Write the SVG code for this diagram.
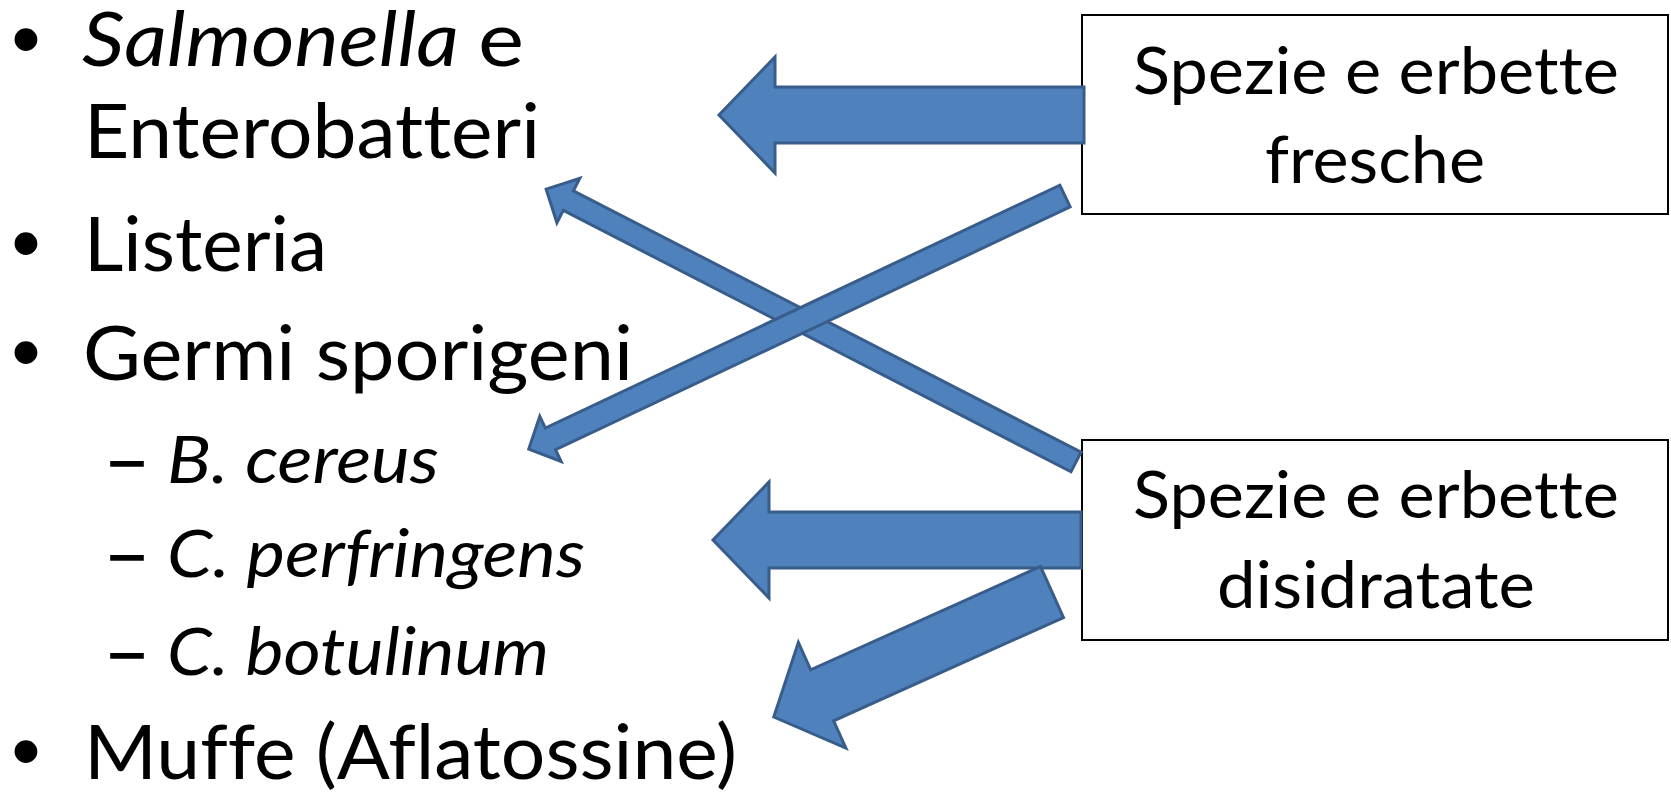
<svg xmlns="http://www.w3.org/2000/svg" width="1671" height="805" viewBox="0 0 1671 805">
  <style>
    text { font-variant-ligatures: none; }
    .txt { font-family: Lato, "Open Sans", "Liberation Sans", sans-serif; fill: #000; }
    .main { font-size: 75px; }
    .sub { font-size: 66px; }
    .it { font-style: italic; }
    .dash { stroke: #000; stroke-width: 1.6; }
    .bul { font-family: "Liberation Sans", Arial, sans-serif; font-size: 84px; fill: #000; }
    .box { fill: #fff; stroke: #000; stroke-width: 2; }
    .boxtxt { font-family: Lato, "Open Sans", "Liberation Sans", sans-serif; font-size: 66px; fill: #000; text-anchor: middle; }
    .arrow { fill: #4F81BD; stroke: #385D8A; stroke-width: 3; stroke-linejoin: miter; }
  </style>

  <!-- bullet list -->
  <g id="list">
    <text class="bul" x="26" y="67" text-anchor="middle">•</text>
    <text class="txt main it" x="82" y="66" textLength="377" lengthAdjust="spacingAndGlyphs">Salmonella</text>
    <text class="txt main" x="478" y="66" textLength="46" lengthAdjust="spacingAndGlyphs">e</text>
    <text class="txt main" x="84" y="158" textLength="456" lengthAdjust="spacingAndGlyphs">Enterobatteri</text>

    <text class="bul" x="26" y="271" text-anchor="middle">•</text>
    <text class="txt main" x="84" y="271" textLength="243" lengthAdjust="spacingAndGlyphs">Listeria</text>

    <text class="bul" x="26" y="380" text-anchor="middle">•</text>
    <text class="txt main" x="83" y="380" textLength="550" lengthAdjust="spacingAndGlyphs">Germi sporigeni</text>

    <text class="txt sub dash" x="104" y="483" textLength="46" lengthAdjust="spacingAndGlyphs">–</text>
    <text class="txt sub it" x="167" y="483" textLength="272" lengthAdjust="spacingAndGlyphs">B. cereus</text>

    <text class="txt sub dash" x="104" y="577" textLength="46" lengthAdjust="spacingAndGlyphs">–</text>
    <text class="txt sub it" x="167" y="577" textLength="418" lengthAdjust="spacingAndGlyphs">C. perfringens</text>

    <text class="txt sub dash" x="104" y="675" textLength="46" lengthAdjust="spacingAndGlyphs">–</text>
    <text class="txt sub it" x="167" y="675" textLength="382" lengthAdjust="spacingAndGlyphs">C. botulinum</text>

    <text class="bul" x="26" y="779" text-anchor="middle">•</text>
    <text class="txt main" x="84" y="779" textLength="653" lengthAdjust="spacingAndGlyphs">Muffe (Aflatossine)</text>
  </g>

  <!-- source boxes -->
  <g id="fresh">
    <rect class="box" x="1082" y="15" width="586" height="199"/>
    <text class="boxtxt" x="1376" y="94" textLength="486" lengthAdjust="spacingAndGlyphs">Spezie e erbette</text>
    <text class="boxtxt" x="1375" y="183" textLength="220" lengthAdjust="spacingAndGlyphs">fresche</text>
  </g>

  <g id="dried">
    <rect class="box" x="1082" y="440" width="586" height="200"/>
    <text class="boxtxt" x="1376" y="518" textLength="486" lengthAdjust="spacingAndGlyphs">Spezie e erbette</text>
    <text class="boxtxt" x="1376" y="608" textLength="318" lengthAdjust="spacingAndGlyphs">disidratate</text>
  </g>

  <!-- block arrows -->
  <g id="connectors">
    <!-- fresh -> Salmonella -->
    <path class="arrow" d="M1084,87 L775,87 L775,57 L719,115 L775,173 L775,143 L1084,143 Z"/>
    <!-- dried -> Salmonella / Enterobatteri (thin) -->
    <path class="arrow" transform="translate(1076,462) rotate(207.25)" d="M0,-11 L571,-11 L571,-25 L596,0 L571,25 L571,11 L0,11 Z"/>
    <!-- fresh -> B. cereus (thin) -->
    <path class="arrow" transform="translate(1065,196) rotate(154.73)" d="M0,-12 L569,-12 L569,-25 L593,0 L569,25 L569,12 L0,12 Z"/>
    <!-- dried -> C. perfringens -->
    <path class="arrow" d="M1081,512 L769,512 L769,482 L713,540 L769,598 L769,568 L1081,568 Z"/>
    <!-- dried -> Muffe -->
    <path class="arrow" transform="translate(1052,592) rotate(155.8)" d="M0,-28 L252,-28 L252,-58 L305,0 L252,58 L252,28 L0,28 Z"/>
  </g>
</svg>
